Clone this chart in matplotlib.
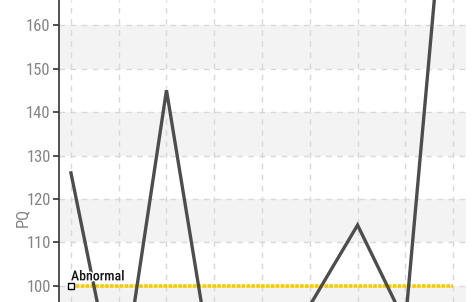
import matplotlib.pyplot as plt
import matplotlib.patheffects as pe

# data (points outside the visible crop are estimates)
xs = [0, 1, 2, 3, 4, 5, 6, 7, 8]
pq = [126, 72, 145, 78, 75, 95.5, 114, 91.5, 214]
threshold = 100
threshold_label = "Abnormal"
yticks = [100, 110, 120, 130, 140, 150, 160]
bands = [(90, 100), (110, 120), (130, 140), (150, 160)]

plt.rcParams['font.family'] = ['Roboto Condensed', 'DejaVu Sans']
plt.rcParams['font.stretch'] = 'condensed'

fig = plt.figure(figsize=(4.74, 3.02), dpi=100)
ax = fig.add_axes([59/474, 0, (466-59)/474, 1])

for lo, hi in bands:
    ax.axhspan(lo, hi, color="#f3f3f3", lw=0, zorder=0)

ax.grid(True, ls=(0, (4, 4)), color="#d8d8d8", lw=1)
ax.set_axisbelow(True)

ax.plot(xs, pq, color="#4d4d4d", lw=2.4, zorder=3, solid_joinstyle="miter")

ax.plot([xs[0], xs[-1]], [threshold, threshold], color="#fcc800", lw=2.6,
        ls=(0, (1, 0.35)), zorder=2)
ax.plot([xs[0]], [threshold], marker="s", ms=4, mfc="white", mec="black",
        mew=1, zorder=4)
ax.text(xs[0], threshold + 0.6, threshold_label, fontsize=10, color="#1a1a1a",
        fontweight="medium", ha="left", va="bottom", zorder=5,
        path_effects=[pe.withStroke(linewidth=2, foreground="white")])

ax.set_xlim(-0.25, 8.27)
ax.set_ylim(96.32, 165.75)
ax.set_xticks(xs)
ax.set_yticks(yticks)
ax.tick_params(axis="x", length=0, labelbottom=False)
ax.tick_params(axis="y", length=4, width=1.2, color="#333333",
               labelcolor="#858585", labelsize=12, pad=2)

for s in ["top", "right", "bottom"]:
    ax.spines[s].set_visible(False)
ax.spines["left"].set_color("#333333")
ax.spines["left"].set_linewidth(1.2)

ax.set_ylabel("PQ", color="#858585", fontsize=12)
ax.yaxis.set_label_coords(-0.072, 0.28)

fig.savefig("out.png", dpi=100)
